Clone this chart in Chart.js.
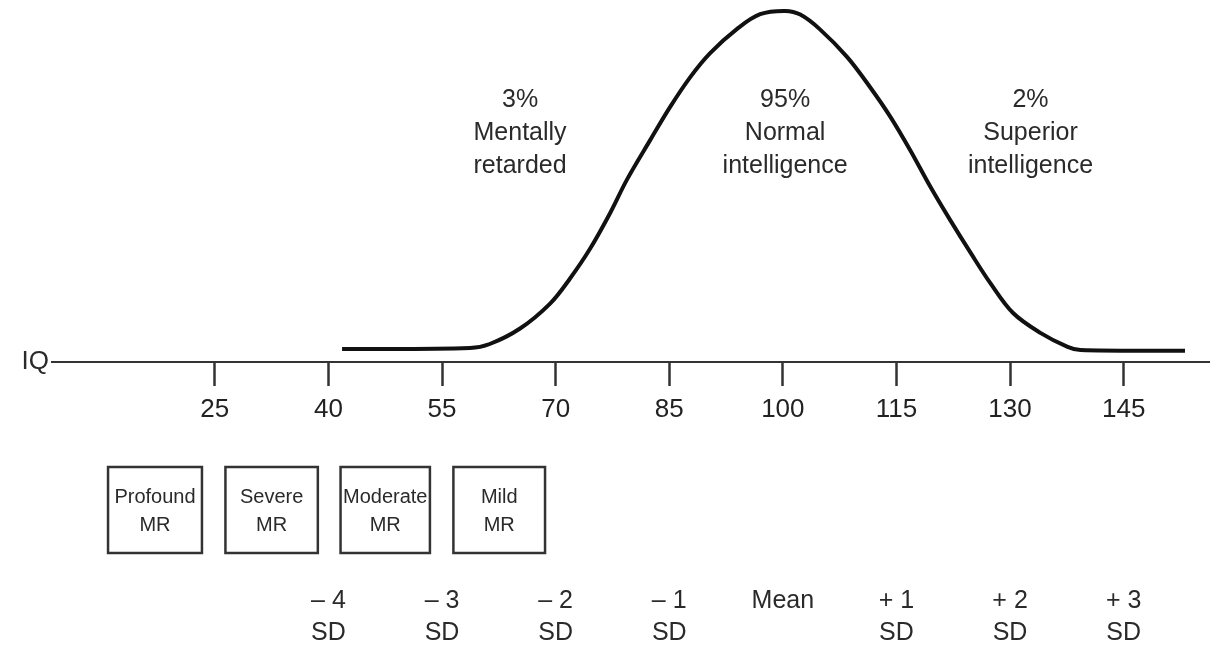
<!DOCTYPE html>
<html>
<head>
<meta charset="utf-8">
<script src="https://cdn.jsdelivr.net/npm/chart.js@4.4.1/dist/chart.umd.min.js"></script>
<style>
  html, body { margin: 0; padding: 0; background: #ffffff; }
  canvas { display: block; }
</style>
</head>
<body>
<canvas id="c" width="1210" height="651"></canvas>
<script>
// ---- data ----
const iqPoints = [41.8, 58.7, 61.3, 65.3, 69.3, 71.9, 74.5, 77.2, 79.4, 82.5, 85.1, 87.8, 90.4, 94.0, 97.0, 100.3, 102.3, 104.9, 108.5, 111.5, 114.2, 116.8, 119.5, 122.1, 124.8, 127.4, 130.4, 134.0, 137.6, 139.3, 153.1];
const curveHeights = [3.6, 3.9, 5.0, 9.3, 16.3, 23.2, 31.3, 41.4, 50.6, 61.7, 70.8, 79.2, 85.8, 92.6, 96.6, 97.5, 96.5, 92.4, 84.7, 76.4, 68.1, 58.9, 48.6, 39.4, 30.3, 21.9, 13.6, 8.1, 4.2, 3.3, 3.1];
const iqTicks = [25, 40, 55, 70, 85, 100, 115, 130, 145];
const sdTop = ['\u2013 4', '\u2013 3', '\u2013 2', '\u2013 1', 'Mean', '+ 1', '+ 2', '+ 3'];
const sdBottom = ['SD', 'SD', 'SD', 'SD', '', 'SD', 'SD', 'SD'];
const sdIQ = [40, 55, 70, 85, 100, 115, 130, 145];
const mrNames = ['Profound', 'Severe', 'Moderate', 'Mild'];
const mrFrom = [10.9, 26.4, 41.6, 56.5];
const mrTo = [23.3, 38.6, 53.4, 68.6];
const groupPct = ['3%', '95%', '2%'];
const groupLine1 = ['Mentally', 'Normal', 'Superior'];
const groupLine2 = ['retarded', 'intelligence', 'intelligence'];
const groupIQ = [65.3, 100.3, 132.7];

const FONT = "'Liberation Sans', Arial, Helvetica, sans-serif";

const points = iqPoints.map((x, i) => ({ x: x, y: curveHeights[i] }));

const overlay = {
  id: 'overlay',
  afterDraw(chart) {
    const ctx = chart.ctx;
    const xs = chart.scales.x;
    const ca = chart.chartArea;
    ctx.save();
    ctx.fillStyle = '#2a2a2a';
    ctx.textAlign = 'center';
    ctx.textBaseline = 'middle';

    // IQ label
    ctx.font = '26px ' + FONT;
    ctx.textAlign = 'right';
    ctx.fillText('IQ', ca.left - 3, ca.bottom);
    ctx.textAlign = 'center';

    // group annotations above the curve
    ctx.font = '25px ' + FONT;
    groupIQ.forEach((v, i) => {
      const px = xs.getPixelForValue(v);
      ctx.fillText(groupPct[i], px, 100);
      ctx.fillText(groupLine1[i], px, 133);
      ctx.fillText(groupLine2[i], px, 166);
    });

    // MR boxes
    ctx.strokeStyle = '#333';
    ctx.lineWidth = 2.5;
    mrNames.forEach((name, i) => {
      const x1 = xs.getPixelForValue(mrFrom[i]);
      const x2 = xs.getPixelForValue(mrTo[i]);
      ctx.strokeRect(x1, 467, x2 - x1, 86);
      ctx.font = '20px ' + FONT;
      ctx.fillText(name, (x1 + x2) / 2, 497);
      ctx.fillText('MR', (x1 + x2) / 2, 525);
    });

    // SD labels
    ctx.font = '25px ' + FONT;
    sdIQ.forEach((v, i) => {
      const px = xs.getPixelForValue(v);
      ctx.fillText(sdTop[i], px, 601);
      if (sdBottom[i]) ctx.fillText(sdBottom[i], px, 633);
    });
    ctx.restore();
  }
};

new Chart(document.getElementById('c'), {
  type: 'scatter',
  data: {
    datasets: [{
      data: points,
      showLine: true,
      borderColor: '#111',
      borderWidth: 4,
      pointRadius: 0,
      tension: 0.35,
      fill: false,
      clip: false
    }]
  },
  options: {
    responsive: false,
    animation: false,
    layout: { padding: { left: 52, top: 2, right: 0, bottom: 0 } },
    plugins: { legend: { display: false }, tooltip: { enabled: false } },
    scales: {
      x: {
        type: 'linear',
        min: 3.5,
        max: 156.4,
        afterBuildTicks: (s) => { s.ticks = iqTicks.map(v => ({ value: v })); },
        afterFit: (s) => { s.height = 289; },
        ticks: {
          font: { size: 26, family: FONT },
          color: '#222',
          padding: 8,
          maxRotation: 0,
          autoSkip: false
        },
        grid: {
          drawOnChartArea: false,
          drawTicks: true,
          tickLength: 24,
          tickColor: '#333',
          tickWidth: 2.5
        },
        border: { display: true, color: '#333', width: 2 }
      },
      y: { display: false, min: 0, max: 100 }
    }
  },
  plugins: [overlay]
});
</script>
</body>
</html>
